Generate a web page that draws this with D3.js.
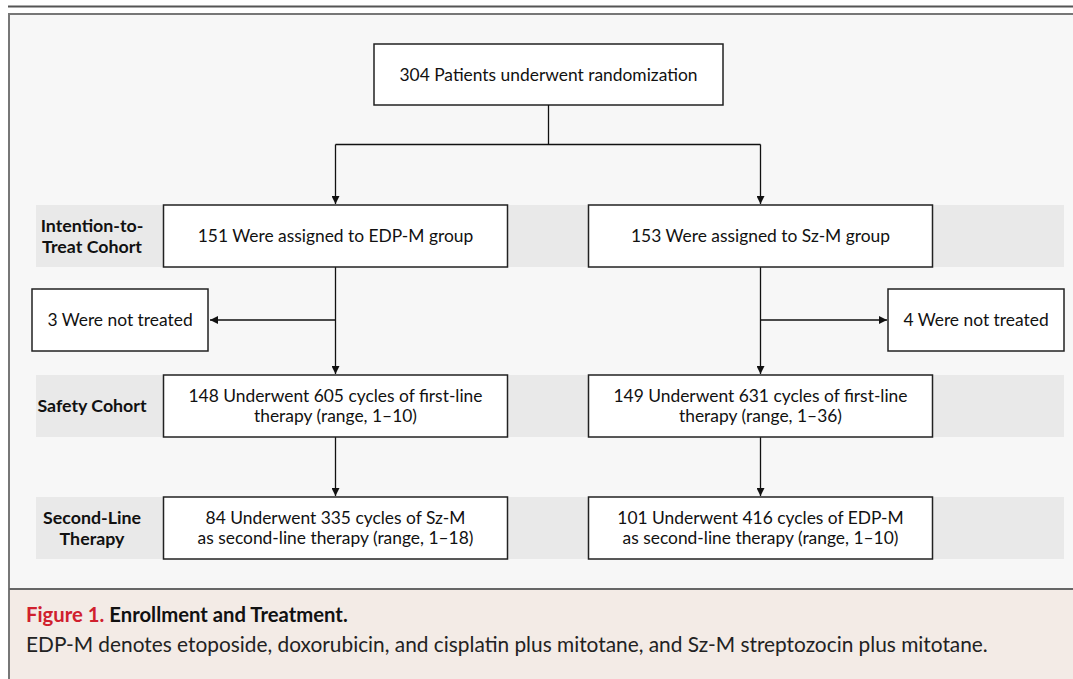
<!DOCTYPE html>
<html><head><meta charset="utf-8">
<script src="https://cdn.jsdelivr.net/npm/d3@7"></script>
<style>
html,body{margin:0;padding:0;background:#fff;}
svg{display:block;}
</style></head>
<body>
<svg id="chart" width="1073" height="679"></svg>
<script>
// ---- data ----
const topBox = ["304 Patients underwent randomization"];
const stages = ["itt", "safety", "second"];
const stageLabels = [["Intention-to-", "Treat Cohort"], ["Safety Cohort"], ["Second-Line", "Therapy"]];
const groups = ["EDP-M", "Sz-M"];
const ittText = [["151 Were assigned to EDP-M group"], ["153 Were assigned to Sz-M group"]];
const safetyText = [["148 Underwent 605 cycles of first-line", "therapy (range, 1\u201310)"],
                    ["149 Underwent 631 cycles of first-line", "therapy (range, 1\u201336)"]];
const secondText = [["84 Underwent 335 cycles of Sz-M", "as second-line therapy (range, 1\u201318)"],
                    ["101 Underwent 416 cycles of EDP-M", "as second-line therapy (range, 1\u201310)"]];
const notTreated = [["3 Were not treated"], ["4 Were not treated"]];
const captionTitle = ["Figure 1.", "Enrollment and Treatment."];
const captionBody = ["EDP-M denotes etoposide, doxorubicin, and cisplatin plus mitotane, and Sz-M streptozocin plus mitotane."];

// ---- layout ----
const svg = d3.select("#chart");
const FONT = "Lato, 'Open Sans', sans-serif";
const colX = d3.scaleOrdinal().domain(groups).range([335.5, 760.5]);
const rowTop = d3.scaleOrdinal().domain(stages).range([205, 375, 497]);
const rowH = 62;
const boxW = 344;
const ntX = d3.scaleOrdinal().domain(groups).range([32, 888]);
const ntW = 176, ntTop = 289, ntH = 62;
const BOXFS = 17.4;

// top rule
svg.append("line").attr("x1", 8).attr("x2", 1073).attr("y1", 6.5).attr("y2", 6.5)
  .attr("stroke", "#555").attr("stroke-width", 2);
// frame
svg.append("rect").attr("x", 9).attr("y", 14).attr("width", 1070).attr("height", 690)
  .attr("fill", "#f7f7f7").attr("stroke", "#777").attr("stroke-width", 2);
// caption background
svg.append("rect").attr("x", 10).attr("y", 589).attr("width", 1070).attr("height", 100)
  .attr("fill", "#f3ebe6");
svg.append("line").attr("x1", 9).attr("x2", 1073).attr("y1", 589).attr("y2", 589)
  .attr("stroke", "#666").attr("stroke-width", 2);

// arrow marker
const defs = svg.append("defs");
defs.append("marker").attr("id", "arr").attr("viewBox", "0 0 10 10")
  .attr("refX", 10).attr("refY", 5).attr("markerWidth", 10).attr("markerHeight", 8)
  .attr("markerUnits", "userSpaceOnUse").attr("orient", "auto")
  .append("path").attr("d", "M0,0 L10,5 L0,10 Z").attr("fill", "#111");

// stage bands
svg.selectAll("rect.band").data(stages).join("rect").attr("class", "band")
  .attr("x", 36).attr("y", d => rowTop(d)).attr("width", 1028).attr("height", rowH)
  .attr("fill", "#e9e9e9");

// stage labels
stages.forEach((s, i) => {
  const lines = stageLabels[i];
  const cy = rowTop(s) + rowH / 2;
  const t = svg.append("text").attr("x", 92).attr("text-anchor", "middle")
    .attr("font-family", FONT).attr("font-weight", "bold").attr("font-size", 17.8).attr("fill", "#111");
  lines.forEach((l, j) => {
    t.append("tspan").attr("x", 92).attr("y", cy + 6 + (j - (lines.length - 1) / 2) * 21).text(l);
  });
});

function box(x, y, w, h, lines, size) {
  svg.append("rect").attr("x", x).attr("y", y).attr("width", w).attr("height", h)
    .attr("fill", "#fff").attr("stroke", "#222").attr("stroke-width", 1.5);
  const t = svg.append("text").attr("text-anchor", "middle").attr("font-family", FONT)
    .attr("font-size", size).attr("fill", "#111");
  lines.forEach((l, j) => {
    t.append("tspan").attr("x", x + w / 2).attr("y", y + h / 2 + 6 + (j - (lines.length - 1) / 2) * 20.5).text(l);
  });
}
function line(x1, y1, x2, y2, arrow) {
  const l = svg.append("line").attr("x1", x1).attr("y1", y1).attr("x2", x2).attr("y2", y2)
    .attr("stroke", "#111").attr("stroke-width", 1.3);
  if (arrow) l.attr("marker-end", "url(#arr)");
}

// top box
const topX = 374, topY = 44, topW = 349, topH = 61;
box(topX, topY, topW, topH, topBox, BOXFS);
const midX = topX + topW / 2;
line(midX, topY + topH, midX, 144.5);
line(colX(groups[0]), 144.5, colX(groups[1]), 144.5);
groups.forEach(g => line(colX(g), 144.5, colX(g), rowTop("itt") - 1, true));

// column flows
groups.forEach((g, i) => {
  const cx = colX(g);
  const y1 = rowTop("itt") + rowH;
  line(cx, y1, cx, rowTop("safety") - 1, true);
  const ay = ntTop + ntH / 2;
  const ntEdge = i === 0 ? ntX(g) + ntW + 2 : ntX(g) - 1;
  line(cx, ay, ntEdge, ay, true);
  line(cx, rowTop("safety") + rowH, cx, rowTop("second") - 1, true);
  box(cx - boxW / 2, rowTop("itt"), boxW, rowH, ittText[i], BOXFS);
  box(cx - boxW / 2, rowTop("safety"), boxW, rowH, safetyText[i], BOXFS);
  box(cx - boxW / 2, rowTop("second"), boxW, rowH, secondText[i], BOXFS);
  box(ntX(g), ntTop, ntW, ntH, notTreated[i], BOXFS);
});

// caption
const ct = svg.append("text").attr("x", 26).attr("y", 622).attr("font-family", FONT)
  .attr("font-size", 20.3).attr("font-weight", "bold");
ct.append("tspan").attr("fill", "#d0202e").text(captionTitle[0] + " ");
ct.append("tspan").attr("fill", "#111").text(captionTitle[1]);
svg.append("text").attr("x", 26).attr("y", 652).attr("font-family", FONT)
  .attr("font-size", 20.85).attr("fill", "#222").text(captionBody[0]);
</script>
</body></html>
